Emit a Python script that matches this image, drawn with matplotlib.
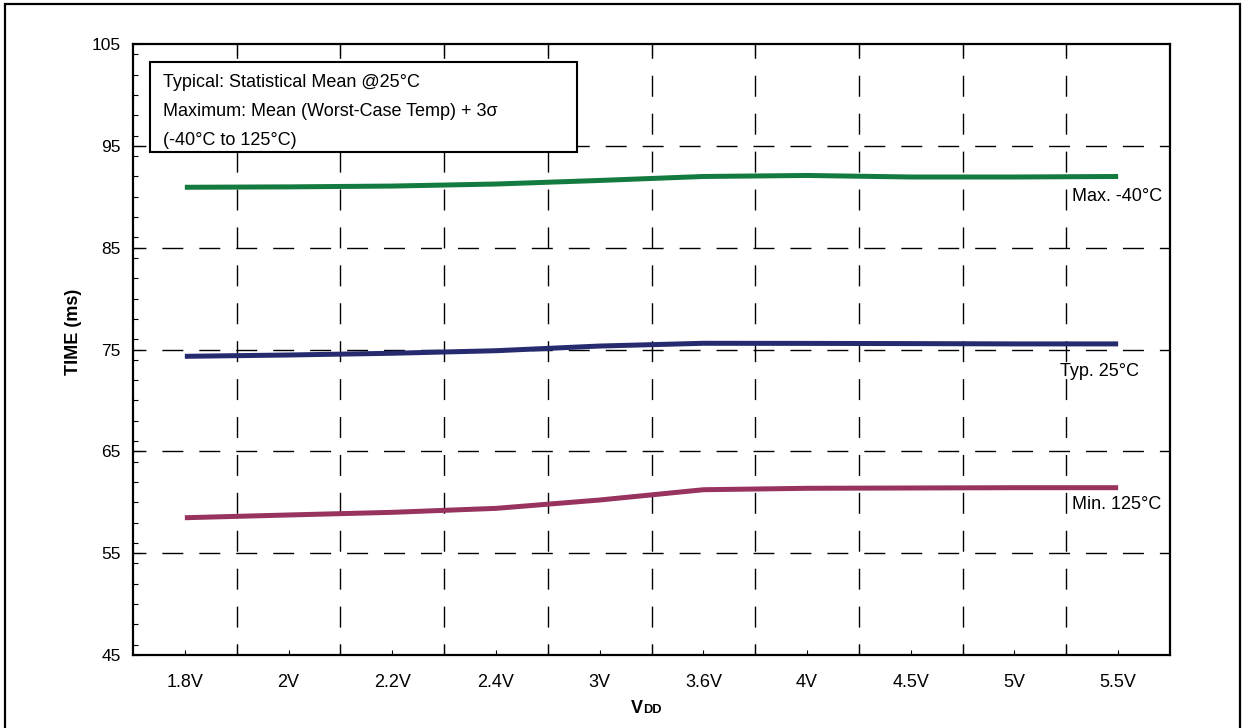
import matplotlib
matplotlib.use("Agg")
import matplotlib.pyplot as plt
from matplotlib.patches import Rectangle
from matplotlib.ticker import MultipleLocator, FixedLocator

plt.rcParams['font.family'] = ['Liberation Sans', 'DejaVu Sans']

categories = ["1.8V", "2V", "2.2V", "2.4V", "3V", "3.6V", "4V", "4.5V", "5V", "5.5V"]
max_m40 = [90.93, 90.97, 91.05, 91.25, 91.6, 91.99, 92.09, 91.94, 91.94, 91.99]
typ_25 = [74.33, 74.46, 74.63, 74.88, 75.34, 75.61, 75.6, 75.58, 75.55, 75.55]
min_125 = [58.48, 58.75, 59.01, 59.40, 60.22, 61.23, 61.37, 61.40, 61.43, 61.43]
y_ticks = [45, 55, 65, 75, 85, 95, 105]
grid_y = [55, 65, 75, 85, 95]

series = [
    (max_m40, "#137b3f", "Max. -40°C"),
    (typ_25, "#262b70", "Typ. 25°C"),
    (min_125, "#983360", "Min. 125°C"),
]

W, H = 1244, 728
fig = plt.figure(figsize=(W / 100, H / 100), dpi=100)
ax = fig.add_axes([133 / W, (H - 655) / H, 1037 / W, 611 / H])

x = list(range(len(categories)))
for vals, col, lab in series:
    ax.plot(x, vals, color=col, lw=3.6, solid_capstyle='butt', zorder=4)

ax.set_xlim(-0.5, len(categories) - 0.5)
ax.set_ylim(45, 105)

# grid (dashed)
for b in [i + 0.5 for i in range(len(categories) - 1)]:
    ax.axvline(b, color='black', lw=1.0, linestyle=(7.2, (15.1, 12.2)), dash_capstyle='butt', zorder=1)
for yv in grid_y:
    ax.axhline(yv, color='black', lw=1.0, linestyle=(5.8, (15.1, 11.5)), dash_capstyle='butt', zorder=1)

# ticks
ax.set_xticks(x)
ax.set_xticklabels(categories, fontsize=13)
ax.xaxis.set_minor_locator(FixedLocator([i + 0.5 for i in range(len(categories) - 1)]))
ax.tick_params(axis='x', which='major', direction='in', length=3.6, width=0.8, pad=13.5, top=False)
ax.tick_params(axis='x', which='minor', direction='in', length=8, width=0.8, top=True, bottom=True)
ax.set_yticks(y_ticks)
ax.yaxis.set_minor_locator(MultipleLocator(2))
ax.tick_params(axis='y', which='major', direction='in', length=6, width=0.8, right=False, labelsize=12.5, pad=9)
ax.tick_params(axis='y', which='minor', direction='in', length=3.6, width=0.8, right=False)
for s in ax.spines.values():
    s.set_linewidth(1.6)

fig.text(73.5 / W, 1 - 331.5 / H, "TIME (ms)", fontsize=13, fontweight='bold',
         rotation=90, ha='center', va='center')

# x label V_DD with small caps
fig.text(631 / W, 1 - 713 / H, "V", fontsize=13, fontweight='bold', ha='left', va='baseline')
fig.text(643.5 / W, 1 - 713 / H, "DD", fontsize=9.2, fontweight='bold', ha='left', va='baseline')

# info box
bx0, bx1, by0, by1 = 150, 577, 62, 152
box = Rectangle(((bx0 - 133) / 1037, (655 - by1) / 611), (bx1 - bx0) / 1037, (by1 - by0) / 611,
                transform=ax.transAxes, facecolor='white', edgecolor='black', lw=1.5, zorder=3)
ax.add_patch(box)
lines = ["Typical: Statistical Mean @25°C",
         "Maximum: Mean (Worst-Case Temp) + 3σ",
         "(-40°C to 125°C)"]
for t, yb in zip(lines, [87.3, 116, 145]):
    ax.text((162.7 - 133) / 1037, (655 - yb) / 611, t, transform=ax.transAxes, fontsize=13,
            ha='left', va='baseline', zorder=5)

# series labels
ax.text(8.555, 89.61, series[0][2], fontsize=13, ha='left', va='baseline', zorder=5)
ax.text(8.439, 72.43, series[1][2], fontsize=13, ha='left', va='baseline', zorder=5)
ax.text(8.555, 59.31, series[2][2], fontsize=13, ha='left', va='baseline', zorder=5)

# outer frame
frame = Rectangle((4.5 / W, -0.05), (1240 - 4.5) / W, 1.05 - 4.5 / H, transform=fig.transFigure,
                  fill=False, edgecolor='black', lw=1.6, clip_on=False)
fig.patches.append(frame)

fig.savefig("out.png", dpi=100)
